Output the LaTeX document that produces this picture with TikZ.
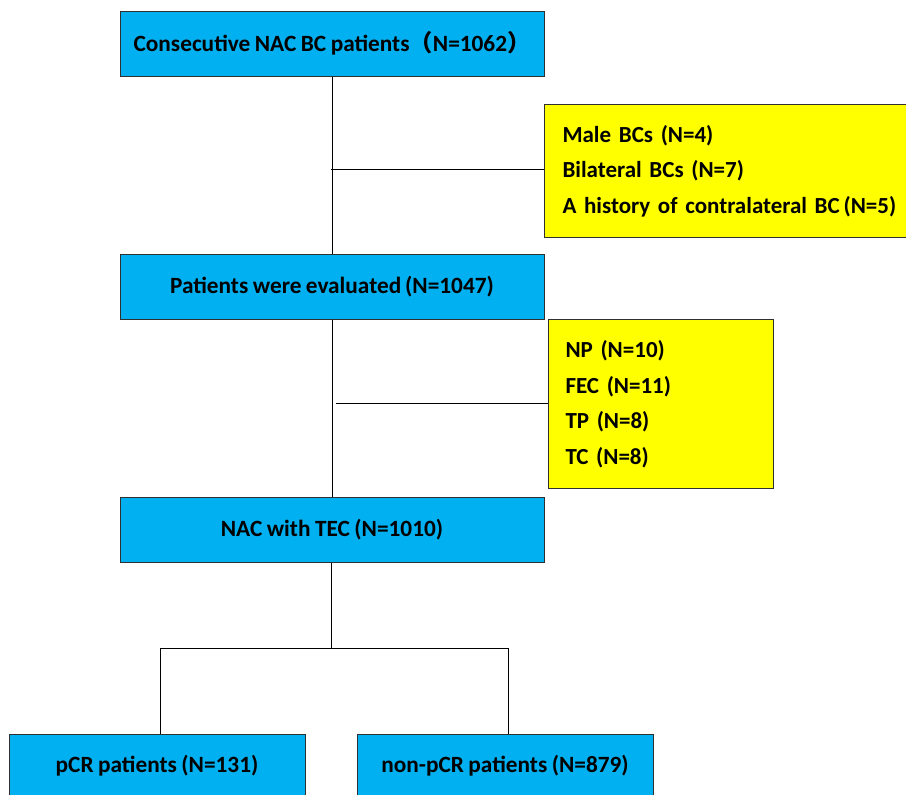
\documentclass[tikz,border=0pt]{standalone}
\usepackage{fontspec}
\setmainfont{Carlito}[WordSpace=0.85]
\newfontfamily\cjk{Noto Sans CJK SC}
\definecolor{boxblue}{HTML}{00B0F0}
\definecolor{boxyellow}{HTML}{FFFF00}
\definecolor{edge}{HTML}{303030}
\begin{document}
\begin{tikzpicture}[x=1pt,y=-1pt,
  bluebox/.style={draw=edge, fill=boxblue, line width=1pt, inner sep=0pt,
    minimum height=65, font=\fontsize{23.3}{28}\selectfont\bfseries},
  yellowbox/.style={draw=edge, fill=boxyellow, line width=1pt, anchor=north west,
    align=left, inner ysep=0pt, font=\fontsize{23}{35.5}\selectfont\bfseries},
  conn/.style={draw=black, line width=1pt}]
\clip (0,0) rectangle (906,795);
\fill[white] (0,0) rectangle (906,795);
\node[bluebox, minimum width=424] (top) at (332,43.5) {Consecutive NAC BC patients{\cjk （}N=1062{\cjk ）}};
\node[bluebox, minimum width=424] (ev) at (332,286.5) {Patients were evaluated\,(N=1047)};
\node[bluebox, minimum width=424] (tec) at (332,529.5) {NAC with TEC (N=1010)};
\node[bluebox, minimum width=296, minimum height=64] (pcr) at (157,766) {pCR patients (N=131)};
\node[bluebox, minimum width=296, minimum height=64] (npcr) at (505,766) {non-pCR patients (N=879)};
\node[yellowbox, text width=345, inner xsep=18, minimum height=133] (ex1) at (544,104)
  {Male BCs (N=4)\\Bilateral BCs (N=7)\\A history of contralateral BC\,(N=5)};
\node[yellowbox, text width=191, inner xsep=17, minimum height=169] (ex2) at (548,319)
  {NP (N=10)\\FEC (N=11)\\TP (N=8)\\TC (N=8)};
\coordinate (j0) at (332,169);
\coordinate (j1) at (331,169);
\coordinate (j2) at (336,403);
\coordinate (split) at (331,648);
\coordinate (sl) at (160,648);
\coordinate (sr) at (508,648);
\draw[conn] (top.south -| j0) -- (ev.north -| j0);
\draw[conn] (ev.south -| j0) -- (tec.north -| j0);
\draw[conn] (j1) -- (j1 -| ex1.west);
\draw[conn] (j2) -- (j2 -| ex2.west);
\draw[conn] (tec.south -| split) -- (split);
\draw[conn] (sl) -- (sr);
\draw[conn] (sl) -- (sl |- pcr.north);
\draw[conn] (sr) -- (sr |- npcr.north);
\end{tikzpicture}
\end{document}
